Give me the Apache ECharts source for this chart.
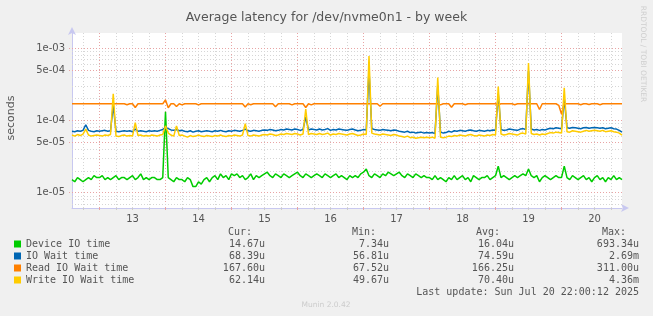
<!DOCTYPE html>
<html><head><meta charset="utf-8">
<script src="https://cdn.jsdelivr.net/npm/echarts@6/dist/echarts.min.js"></script>
<style>html,body{margin:0;padding:0;background:#f0f0f0}#c{width:653px;height:316px}</style>
</head><body><div id="c"></div>
<script>
// hours relative to Jul 13 00:00, hourly samples
const hours = Array.from({length: 201}, (_, i) => i - 10);
const dayLabels = ['13','14','15','16','17','18','19','20'];
const yLabels = ['1e-03','5e-04','1e-04','5e-05','1e-05'];
const yMajor = [1e-3, 5e-4, 1e-4, 5e-5, 1e-5];
const yMinor = [9e-4,8e-4,7e-4,6e-4,4e-4,3e-4,2e-4,9e-5,8e-5,7e-5,6e-5,4e-5,3e-5,2e-5,9e-6,8e-6,7e-6];
const seriesNames = ['Device IO time','IO Wait time','Read IO Wait time','Write IO Wait time'];
const colors = ['#00cc00','#0066b3','#ff8000','#ffcc00'];
// values in microseconds
const deviceIO = [
15,14,16,15,14,15,16,15,17,16,
16,17,15,16,15,16,17,15,16,16,
15,16,17,15,16,18,15,16,15,16,
16,15,15,16,130,16,15,14,16,15,
15,14,16,15,12,12,14,13,15,16,
14,16,17,15,18,16,17,15,18,17,
18,16,17,15,16,18,15,17,16,17,
18,19,17,16,18,17,16,18,17,16,
17,18,19,17,16,18,17,16,17,18,
17,16,18,17,16,17,18,16,17,16,
15,17,16,17,16,18,19,21,17,16,
18,17,16,18,17,19,18,17,18,19,
17,16,18,17,16,18,17,16,17,16,
16,15,17,15,16,15,14,16,15,17,
15,16,17,15,16,14,17,16,15,16,
16,17,15,16,17,23,16,17,16,15,
16,17,16,17,18,17,21,17,16,17,
14,16,17,16,15,16,17,16,16,23,
16,15,17,16,15,16,17,15,16,14,
16,17,15,16,14,16,15,17,15,16,15];
const ioWait = [
70,69,71,70,72,86,72,70,69,71,
70,71,72,70,71,160,70,69,70,71,
70,71,69,75,70,71,70,69,71,70,
71,70,72,74,79,76,73,72,74,71,
72,70,69,71,68,70,71,69,70,71,
70,69,71,70,72,70,69,71,70,72,
71,70,72,75,71,70,72,71,70,72,
73,72,74,73,71,72,74,73,75,74,
73,75,74,72,74,110,73,75,74,73,
75,73,74,76,72,74,73,75,74,73,
72,74,75,73,71,72,74,73,500,76,
74,73,72,74,73,72,71,73,72,70,
69,68,70,67,68,66,67,68,66,67,
66,67,65,300,68,66,67,70,68,71,
70,72,71,70,72,73,71,70,72,71,
70,72,71,73,72,230,74,72,73,75,
74,73,72,75,76,74,480,75,73,74,
72,74,73,75,77,76,78,77,76,200,
78,77,79,78,77,76,78,79,77,78,
79,78,77,78,76,77,78,76,75,72,68];
const readWait = [
168,168,168,168,168,168,168,168,168,168,
168,168,168,168,168,168,168,168,168,168,
163,168,168,149,168,168,168,168,168,168,
168,168,168,168,190,148,168,168,154,168,
162,168,168,168,168,168,162,168,168,168,
168,168,168,168,168,168,168,168,168,168,
168,168,168,152,168,163,168,168,168,168,
168,168,168,168,153,168,168,168,168,168,
162,168,168,168,168,149,168,162,168,168,
168,168,168,168,168,168,168,168,168,168,
168,168,168,168,168,168,168,168,168,168,
168,168,155,168,168,168,168,168,168,168,
168,168,168,168,168,168,168,168,168,168,
168,168,168,168,162,168,168,168,150,168,
168,168,168,163,168,168,168,168,168,168,
168,168,168,168,168,163,168,168,168,168,
168,163,168,168,168,168,168,168,168,168,
140,168,168,168,168,168,168,160,121,168,
168,168,168,168,168,163,168,168,164,168,
168,168,163,168,168,168,168,168,168,168,168];
const writeWait = [
62,60,63,61,64,75,62,60,61,62,
61,60,62,61,63,230,60,59,61,62,
60,61,60,92,61,62,60,61,60,62,
61,60,62,63,83,66,62,60,83,61,
62,60,58,61,59,60,62,60,59,61,
60,59,61,60,62,60,59,61,60,62,
61,60,62,89,61,60,62,61,60,62,
63,62,64,63,61,62,64,63,65,64,
63,65,64,62,64,142,63,65,64,63,
65,63,64,66,62,64,63,65,64,63,
62,64,65,63,61,62,64,63,770,66,
64,63,62,64,63,62,61,63,62,60,
59,58,60,57,58,56,57,58,57,58,
57,58,56,388,58,57,58,60,59,61,
60,62,61,60,62,63,61,60,62,61,
60,62,61,63,62,290,64,62,63,65,
64,63,62,65,66,64,614,65,63,64,
62,64,63,65,67,66,68,67,66,280,
69,68,71,70,69,68,70,72,70,71,
72,71,70,72,69,70,71,69,68,66,62];
const statHeaders = ['Cur:','Min:','Avg:','Max:'];
const stats = [
  ['14.67u','7.34u','16.04u','693.34u'],
  ['68.39u','56.81u','74.59u','2.69m'],
  ['167.60u','67.52u','166.25u','311.00u'],
  ['62.14u','49.67u','70.40u','4.36m']
];
const lastUpdate = 'Last update: Sun Jul 20 22:00:12 2025';

const allValues = [deviceIO, ioWait, readWait, writeWait];
const mono = 'DejaVu Sans Mono';
const sans = 'DejaVu Sans';
const txt = '#555';
const red = '#e8a4a4';
const grey = '#d6d6d6';

const chart = echarts.init(document.getElementById('c'), null, {renderer: 'canvas'});

const series = [];
allValues.forEach((arr, k) => series.push({
  name: seriesNames[k], type: 'line', z: 3 + k, showSymbol: false, symbol: 'none',
  data: arr.map(v => v * 1e-6),
  lineStyle: {color: colors[k], width: 1.5}, itemStyle: {color: colors[k]}
}));

const colX = [[252, 265], [376, 389], [500, 514], [626, 639]];
const graphics = [
  {type: 'text', x: 11, y: 118, rotation: Math.PI / 2,
   style: {text: 'seconds', fill: txt, font: '11px ' + sans, align: 'center', verticalAlign: 'middle'}},
  {type: 'text', x: 643, y: 54, rotation: -Math.PI / 2,
   style: {text: 'RRDTOOL / TOBI OETIKER', fill: '#cfcfcf', font: '7.5px ' + sans, align: 'center', verticalAlign: 'middle'}},
  {type: 'text', x: 326, y: 305,
   style: {text: 'Munin 2.0.42', fill: '#cccccc', font: '7.5px ' + sans, align: 'center', verticalAlign: 'middle'}},
  {type: 'text', x: 639, y: 292,
   style: {text: lastUpdate, fill: txt, font: '10px ' + mono, align: 'right', verticalAlign: 'middle'}}
];
statHeaders.forEach((h, c) => graphics.push({type: 'text', x: colX[c][0], y: 232,
  style: {text: h, fill: txt, font: '10px ' + mono, align: 'right', verticalAlign: 'middle'}}));
stats.forEach((row, r) => row.forEach((s, c) => graphics.push({type: 'text', x: colX[c][1], y: 244 + 12 * r,
  style: {text: s, fill: txt, font: '10px ' + mono, align: 'right', verticalAlign: 'middle'}})));

const hourOf = idx => hours[idx];
const option = {
  animation: false,
  backgroundColor: '#f0f0f0',
  color: colors,
  title: {text: 'Average latency for /dev/nvme0n1 - by week', left: 'center', top: 6,
    textStyle: {color: txt, fontWeight: 'normal', fontSize: 12.5, fontFamily: sans}},
  legend: {
    data: seriesNames, orient: 'vertical', left: 14, top: 238, padding: 0, icon: 'rect',
    itemWidth: 7, itemHeight: 7, itemGap: 0, itemTextGap: 5, selectedMode: false,
    textStyle: {color: txt, fontFamily: mono, fontSize: 10, lineHeight: 12, padding: 0}
  },
  grid: {left: 72, top: 33, right: 31, bottom: 108, containLabel: false,
    show: true, backgroundColor: '#ffffff', borderWidth: 0},
  xAxis: [{
    type: 'category', data: hours, boundaryGap: false, position: 'bottom',
    axisLine: {show: true, lineStyle: {color: '#c8c8f0', width: 1}, symbol: ['none', 'arrow'], symbolSize: [6, 8], symbolOffset: [0, 7]},
    axisTick: {show: true, length: 2, interval: i => hourOf(i) % 24 === 0, lineStyle: {color: red}},
    axisLabel: {show: true, interval: i => hourOf(i) % 24 === 12 && hourOf(i) > 0,
      formatter: v => dayLabels[(Number(v) - 12) / 24], color: txt, fontFamily: sans, fontSize: 10, margin: 6},
    splitLine: {show: true, interval: i => hourOf(i) % 24 === 0, lineStyle: {color: red, type: [1, 2]}}
  }, {
    type: 'category', data: hours, boundaryGap: false, position: 'bottom',
    axisLine: {show: false}, axisLabel: {show: false},
    axisTick: {show: true, length: 2, interval: i => hourOf(i) % 6 === 0 && hourOf(i) % 24 !== 0, lineStyle: {color: '#cccccc'}},
    splitLine: {show: true, interval: i => hourOf(i) % 6 === 0 && hourOf(i) % 24 !== 0, lineStyle: {color: grey, type: [1, 2]}}
  }],
  yAxis: {
    type: 'log', min: 6.07e-6, max: 1.6e-3,
    axisLine: {show: true, lineStyle: {color: '#c8c8f0', width: 1}, symbol: ['none', 'arrow'], symbolSize: [6, 8], symbolOffset: [0, 6]},
    axisTick: {show: false}, axisLabel: {show: false}, splitLine: {show: false}
  },
  series: series
};
chart.setOption(option);

// horizontal grid lines and y labels positioned through the y axis scale
const gx0 = chart.convertToPixel({xAxisIndex: 0}, 0);
const gx1 = chart.convertToPixel({xAxisIndex: 0}, hours.length - 1);
const yEls = [];
yMinor.forEach(v => {
  const py = Math.round(chart.convertToPixel({yAxisIndex: 0}, v)) + 0.5;
  yEls.push({type: 'line', z: 1, silent: true, shape: {x1: gx0, y1: py, x2: gx1, y2: py},
    style: {stroke: grey, lineWidth: 1, lineDash: [1, 2]}});
});
yMajor.forEach((v, k) => {
  const py = Math.round(chart.convertToPixel({yAxisIndex: 0}, v)) + 0.5;
  yEls.push({type: 'line', z: 1, silent: true, shape: {x1: gx0 - 3, y1: py, x2: gx1, y2: py},
    style: {stroke: red, lineWidth: 1, lineDash: [1, 2]}});
  yEls.push({type: 'text', z: 1, x: gx0 - 7, y: py,
    style: {text: yLabels[k], fill: txt, font: '10px ' + sans, align: 'right', verticalAlign: 'middle'}});
});
chart.setOption({graphic: graphics.concat(yEls)});
</script></body></html>
